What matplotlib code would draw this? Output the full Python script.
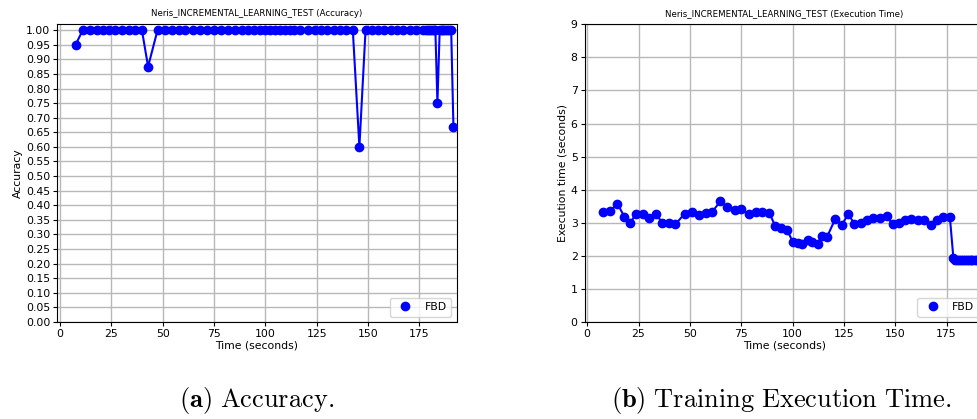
import matplotlib
matplotlib.use('Agg')
import matplotlib.pyplot as plt

# time of each test window (seconds), shared by both panels
time_s = [7.6, 11.1, 14.7, 18.1, 21.0, 23.8, 27.0, 30.3, 33.5, 36.6,
	39.9, 42.9, 47.5, 51.1, 54.4, 57.8, 61.0, 64.8, 68.2, 71.8,
	75.0, 78.6, 82.0, 85.3, 88.7, 91.6, 94.6, 97.5, 100.0, 102.4,
	104.8, 107.3, 109.7, 112.2, 114.1, 116.7, 120.8, 124.0, 127.1, 130.1,
	133.3, 136.3, 139.3, 142.6, 145.8, 148.8, 151.7, 154.8, 157.7, 161.2,
	164.1, 167.2, 170.3, 173.4, 176.6, 178.3, 179.2, 180.2, 181.0, 181.9,
	182.8, 183.8, 184.9, 185.8, 186.7, 187.6, 188.6, 189.6, 190.5, 191.6]

accuracy = [0.95, 1.0, 1.0, 1.0, 1.0, 1.0, 1.0, 1.0, 1.0, 1.0,
	1.0, 0.875, 1.0, 1.0, 1.0, 1.0, 1.0, 1.0, 1.0, 1.0,
	1.0, 1.0, 1.0, 1.0, 1.0, 1.0, 1.0, 1.0, 1.0, 1.0,
	1.0, 1.0, 1.0, 1.0, 1.0, 1.0, 1.0, 1.0, 1.0, 1.0,
	1.0, 1.0, 1.0, 1.0, 0.6, 1.0, 1.0, 1.0, 1.0, 1.0,
	1.0, 1.0, 1.0, 1.0, 1.0, 1.0, 1.0, 1.0, 1.0, 1.0,
	1.0, 0.75, 1.0, 1.0, 1.0, 1.0, 1.0, 1.0, 1.0, 0.667]

exec_time = [3.33, 3.35, 3.58, 3.18, 3.00, 3.28, 3.26, 3.15, 3.26, 3.00,
	2.99, 2.95, 3.28, 3.33, 3.24, 3.30, 3.34, 3.65, 3.48, 3.40,
	3.41, 3.26, 3.34, 3.33, 3.30, 2.89, 2.85, 2.77, 2.43, 2.40,
	2.37, 2.48, 2.43, 2.37, 2.60, 2.56, 3.12, 2.94, 3.26, 2.97,
	2.98, 3.08, 3.13, 3.14, 3.19, 2.95, 3.00, 3.07, 3.10, 3.08,
	3.08, 2.94, 3.07, 3.16, 3.17, 1.94, 1.88, 1.86, 1.86, 1.86,
	1.86, 1.86, 1.86, 1.86, 1.86, 1.86, 1.86, 1.86, 1.86, 1.86]

acc_ticks = [i * 0.05 for i in range(21)]
time_ticks = [0, 25, 50, 75, 100, 125, 150, 175]

fs = 7.8
plt.rcParams['mathtext.fontset'] = 'cm'

def draw_panel(ax, x, y, title, ylabel):
	ax.plot(x, y, color='blue', linewidth=1.5, zorder=3)
	ax.plot(x, y, 'o', color='blue', markersize=6, label='FBD', zorder=3)
	ax.set_title(title, fontsize=6.2)
	ax.set_xlabel('Time (seconds)', fontsize=fs, labelpad=1)
	ax.set_ylabel(ylabel, fontsize=fs, labelpad=2)
	ax.set_xticks(time_ticks)
	ax.set_xlim(-1.3, 193.2)
	ax.tick_params(labelsize=fs, length=3, pad=2)
	ax.grid(True, color='#b8b8b8', linewidth=1.0)
	ax.set_axisbelow(True)
	ax.legend(loc='lower right', fontsize=fs)

fig = plt.figure(figsize=(9.78, 4.19), dpi=100)

ax1 = fig.add_axes([0.0586, 0.2315, 0.4084, 0.7105])
draw_panel(ax1, time_s, accuracy, 'Neris_INCREMENTAL_LEARNING_TEST (Accuracy)', 'Accuracy')
ax1.set_yticks(acc_ticks)
ax1.set_yticklabels(['%.2f' % t for t in acc_ticks])
ax1.set_ylim(0, 1.02)

# right panel runs past the page edge, like the cropped original
ax2 = fig.add_axes([0.5977, 0.2315, 0.4084, 0.7105])
draw_panel(ax2, time_s, exec_time, 'Neris_INCREMENTAL_LEARNING_TEST (Execution Time)', 'Execution time (seconds)')
ax2.set_yticks(range(10))
ax2.set_ylim(0, 9)

fig.text(0.262, 0.045, r'$\mathbf{(a)}\ \mathrm{Accuracy.}$', fontsize=19, ha='center', va='center')
fig.text(0.799, 0.045, r'$\mathbf{(b)}\ \mathrm{Training\ Execution\ Time.}$', fontsize=19, ha='center', va='center')

fig.savefig('out.png', dpi=100)
